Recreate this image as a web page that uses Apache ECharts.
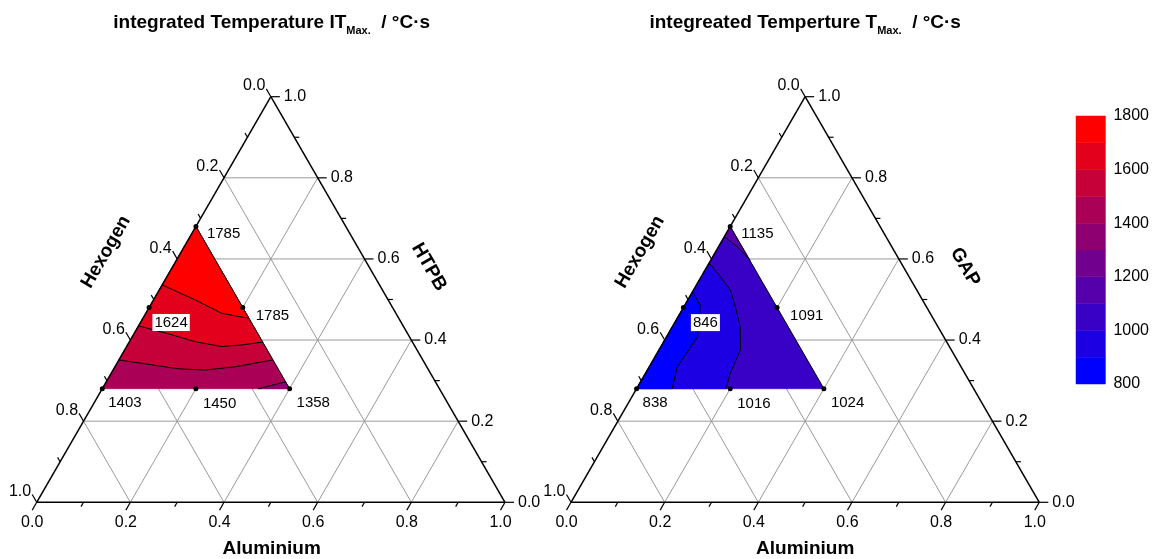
<!DOCTYPE html>
<html>
<head>
<meta charset="utf-8">
<title>ternary contour</title>
<script src="https://cdn.jsdelivr.net/npm/echarts@6.0.0/dist/echarts.min.js"></script>
<style>
  html, body { margin: 0; padding: 0; background: #fff; }
  #chart { width: 1152px; height: 559px; }
</style>
</head>
<body>
<div id="chart"></div>
<script>
// design points as [Aluminium, binder] fractions, Hexogen is the rest
// order: top, bottom-left, bottom-right, left edge mid, right edge mid, bottom mid
var pointAl = [0, 0, 0.4, 0, 0.2, 0.2];
var pointBinder = [0.68, 0.28, 0.28, 0.48, 0.48, 0.28];

var valuesIT = [1785, 1403, 1358, 1624, 1785, 1450];   // HTPB
var valuesT = [1135, 838, 1024, 846, 1091, 1016];      // GAP

// contour lines, [Aluminium, binder]
var contourIT1700 = [[0, 0.536], [0.089, 0.499], [0.162, 0.466], [0.202, 0.458], [0.226, 0.454]];
var contourIT1600 = [[0, 0.435], [0.082, 0.413], [0.140, 0.396], [0.203, 0.384], [0.244, 0.388], [0.285, 0.395]];
var contourIT1500 = [[0, 0.351], [0.076, 0.339], [0.138, 0.329], [0.196, 0.326], [0.256, 0.334], [0.329, 0.351]];
var contourIT1400 = [[0.333, 0.28], [0.383, 0.297]];

var contourT1100 = [[0, 0.655], [0.043, 0.628], [0.084, 0.597]];
var contourT1000 = [[0, 0.59], [0.041, 0.556], [0.079, 0.523], [0.110, 0.482], [0.145, 0.433], [0.174, 0.376], [0.181, 0.318], [0.191, 0.28]];
var contourT900 = [[0, 0.519], [0.033, 0.486], [0.066, 0.408], [0.060, 0.334], [0.076, 0.28]];

// colour scale steps
var bandLow = [800, 900, 1000, 1100, 1200, 1300, 1400, 1500, 1600, 1700];

var majorTicks = [0, 0.2, 0.4, 0.6, 0.8, 1];
var tickLabels = ['0.0', '0.2', '0.4', '0.6', '0.8', '1.0'];
var minorTicks = [0.1, 0.3, 0.5, 0.7, 0.9];
var gridLevels = [0.2, 0.4, 0.6, 0.8];

var bandColors = ['#0000ff', '#1c00e3', '#3900c6', '#5500aa', '#71008e', '#8e0071', '#aa0055', '#c60039', '#e3001c', '#ff0000'];
var font = "'Liberation Sans', Arial, sans-serif";

function tern(al, b) { return [al + b / 2, b]; }
function corner(i) { return [pointAl[i], pointBinder[i]]; }
function bandColor(v) { return bandColors[Math.floor((v - 800) / 100)]; }

var fillsIT = [
  { low: 1400, pts: [corner(0), corner(1), corner(2)] },
  { low: 1500, pts: contourIT1500.concat([corner(0)]) },
  { low: 1600, pts: contourIT1600.concat([corner(0)]) },
  { low: 1700, pts: contourIT1700.concat([corner(0)]) },
  { low: 1300, pts: contourIT1400.concat([corner(2)]) }
];
var fillsT = [
  { low: 1000, pts: [corner(0), corner(1), corner(2)] },
  { low: 900, pts: contourT1000.concat([corner(1)]) },
  { low: 800, pts: contourT900.concat([corner(1)]) },
  { low: 1100, pts: contourT1100.concat([corner(0)]) }
];
var edgeLine = [corner(0), corner(2)];

// grid lines and frame as segments [x1, y1, x2, y2]
var gridSegs = [];
gridLevels.forEach(function (v) {
  gridSegs.push(tern(v, 0).concat(tern(v, 1 - v)));
  gridSegs.push(tern(0, v).concat(tern(1 - v, v)));
  gridSegs.push(tern(1 - v, 0).concat(tern(0, 1 - v)));
});
var frameSegs = [
  tern(0, 0).concat(tern(1, 0)),
  tern(1, 0).concat(tern(0, 1)),
  tern(0, 1).concat(tern(0, 0))
];

// ticks: 0 = Aluminium (bottom), 1 = binder (right), 2 = Hexogen (left)
var tickDirs = [[-0.5, 0.866], [1, 0], [-0.5, -0.866]];
var ticks = [];
function addTick(v, label) {
  ticks.push({ axis: 0, at: tern(v, 0), label: label });
  ticks.push({ axis: 1, at: tern(1 - v, v), label: label });
  ticks.push({ axis: 2, at: tern(0, 1 - v), label: label });
}
majorTicks.forEach(function (v, i) { addTick(v, tickLabels[i]); });
minorTicks.forEach(function (v) { addTick(v, null); });

// label placement for the six points: align, dx, dy
var labelPos = [['left', 11, 7], ['left', 6, 14], ['left', 7, 14], ['center', 22, 15], ['left', 13, 8], ['left', 7, 15]];

function segRender(color, width) {
  return function (params, api) {
    var p1 = api.coord([api.value(0), api.value(1)]);
    var p2 = api.coord([api.value(2), api.value(3)]);
    return { type: 'line', shape: { x1: p1[0], y1: p1[1], x2: p2[0], y2: p2[1] },
      style: { stroke: color, lineWidth: width } };
  };
}

function fillRender(list) {
  return function (params, api) {
    var f = list[params.dataIndex];
    var pts = f.pts.map(function (p) { return api.coord(tern(p[0], p[1])); });
    var c = bandColor(f.low);
    return { type: 'polygon', shape: { points: pts }, style: { fill: c, stroke: c, lineWidth: 0.6 } };
  };
}

function lineRender(list) {
  return function (params, api) {
    var pts = list[params.dataIndex].map(function (p) { return api.coord(tern(p[0], p[1])); });
    return { type: 'polyline', shape: { points: pts }, style: { stroke: '#000', lineWidth: 1, fill: null } };
  };
}

function renderTick(params, api) {
  var t = ticks[params.dataIndex];
  var p = api.coord([api.value(0), api.value(1)]);
  var d = tickDirs[t.axis];
  var len = t.label ? 9 : 5;
  var e = [p[0] + d[0] * len, p[1] + d[1] * len];
  var kids = [{ type: 'line', shape: { x1: p[0], y1: p[1], x2: e[0], y2: e[1] },
    style: { stroke: '#000', lineWidth: 1.2 } }];
  if (t.label) {
    var pos = t.axis === 0 ? [e[0], e[1] + 12, 'center']
      : t.axis === 1 ? [e[0] + 4, e[1], 'left'] : [e[0] - 1, e[1] - 3, 'right'];
    kids.push({ type: 'text', x: pos[0], y: pos[1],
      style: { text: t.label, fill: '#000', fontSize: 16, fontFamily: font, align: pos[2], verticalAlign: 'middle' } });
  }
  return { type: 'group', children: kids };
}

function plotSeries(g, values, fills, contours) {
  var lines = contours.concat([edgeLine]);
  return [
    { type: 'custom', xAxisIndex: g, yAxisIndex: g, z: 1, silent: true, data: gridSegs,
      encode: { x: [0, 2], y: [1, 3] }, renderItem: segRender('#9a9a9a', 1) },
    { type: 'custom', xAxisIndex: g, yAxisIndex: g, z: 2, silent: true,
      data: fills.map(function (f) { return tern(f.pts[0][0], f.pts[0][1]); }), renderItem: fillRender(fills) },
    { type: 'custom', xAxisIndex: g, yAxisIndex: g, z: 3, silent: true,
      data: lines.map(function (l) { return tern(l[0][0], l[0][1]); }), renderItem: lineRender(lines) },
    { type: 'custom', xAxisIndex: g, yAxisIndex: g, z: 4, silent: true, data: frameSegs,
      encode: { x: [0, 2], y: [1, 3] }, renderItem: segRender('#000', 1.5) },
    { type: 'custom', xAxisIndex: g, yAxisIndex: g, z: 4, silent: true,
      data: ticks.map(function (t) { return t.at; }), renderItem: renderTick },
    { type: 'scatter', xAxisIndex: g, yAxisIndex: g, z: 5, silent: true, symbolSize: 5,
      itemStyle: { color: '#000', opacity: 1 },
      label: { show: true, verticalAlign: 'middle', fontSize: 15, color: '#000', fontFamily: font,
        textBorderWidth: 0, opacity: 1, formatter: function (p) { return p.value[2]; } },
      data: values.map(function (v, i) {
        var lp = labelPos[i];
        return { value: tern(pointAl[i], pointBinder[i]).concat([v]),
          label: { position: [lp[1] + 2.5, lp[2] + 2.5], align: lp[0], color: '#000',
            backgroundColor: i === 3 ? '#fff' : 'transparent', padding: i === 3 ? [1, 2] : 0 } };
      }) }
  ];
}

var chart = echarts.init(document.getElementById('chart'));

var titleRich = {
  a: { fontSize: 19, fontWeight: 'bold', fontFamily: font, lineHeight: 26, fill: '#000' },
  b: { fontSize: 11, fontWeight: 'bold', fontFamily: font, lineHeight: 10, verticalAlign: 'bottom', fill: '#000' }
};
function axisTitle(x, y, rot, text) {
  return { type: 'text', x: x, y: y, rotation: rot,
    style: { text: text, fill: '#000', fontSize: 19, fontWeight: 'bold', fontFamily: font, align: 'center', verticalAlign: 'middle' } };
}

var option = {
  animation: false,
  backgroundColor: '#fff',
  grid: [
    { left: 36.7, top: 96.7, width: 468.3, height: 405.6 },
    { left: 571, top: 96.7, width: 468.3, height: 405.6 },
    { left: 1076, top: 116, width: 31, height: 268 }
  ],
  xAxis: [
    { gridIndex: 0, type: 'value', min: 0, max: 1, show: false },
    { gridIndex: 1, type: 'value', min: 0, max: 1, show: false },
    { gridIndex: 2, type: 'value', min: 0, max: 1, show: false }
  ],
  yAxis: [
    { gridIndex: 0, type: 'value', min: 0, max: 1, show: false },
    { gridIndex: 1, type: 'value', min: 0, max: 1, show: false },
    { gridIndex: 2, type: 'value', min: 800, max: 1800, interval: 200, position: 'right',
      axisLine: { show: false }, axisTick: { show: false }, splitLine: { show: false },
      axisLabel: { fontSize: 16, color: '#000', fontFamily: font, margin: 8,
        formatter: function (v) { return String(v); } } }
  ],
  graphic: [
    { type: 'text', x: 271.7, y: 23,
      style: { text: '{a|integrated Temperature IT}{b|Max.}{a|  / °C·s}', rich: titleRich, align: 'center', verticalAlign: 'middle' } },
    { type: 'text', x: 805.2, y: 23,
      style: { text: '{a|integreated Temperture T}{b|Max.}{a|  / °C·s}', rich: titleRich, align: 'center', verticalAlign: 'middle' } },
    axisTitle(271.7, 549, 0, 'Aluminium'),
    axisTitle(805.2, 549, 0, 'Aluminium'),
    axisTitle(106, 252, Math.PI / 3, 'Hexogen'),
    axisTitle(640, 252, Math.PI / 3, 'Hexogen'),
    axisTitle(429, 267, -Math.PI / 3, 'HTPB'),
    axisTitle(965, 267, -Math.PI / 3, 'GAP')
  ],
  series: plotSeries(0, valuesIT, fillsIT, [contourIT1700, contourIT1600, contourIT1500, contourIT1400])
    .concat(plotSeries(1, valuesT, fillsT, [contourT1100, contourT1000, contourT900]))
    .concat([{
      type: 'custom', xAxisIndex: 2, yAxisIndex: 2, silent: true,
      data: bandLow.map(function (l) { return [0, l, 1, l + 100]; }),
      encode: { x: [0, 2], y: [1, 3] },
      renderItem: function (params, api) {
        var p1 = api.coord([api.value(0), api.value(1)]);
        var p2 = api.coord([api.value(2), api.value(3)]);
        return { type: 'rect', shape: { x: p1[0], y: p2[1], width: p2[0] - p1[0], height: p1[1] - p2[1] },
          style: { fill: bandColors[params.dataIndex], stroke: bandColors[params.dataIndex], lineWidth: 0.5 } };
      }
    }])
};

chart.setOption(option);
</script>
</body>
</html>
